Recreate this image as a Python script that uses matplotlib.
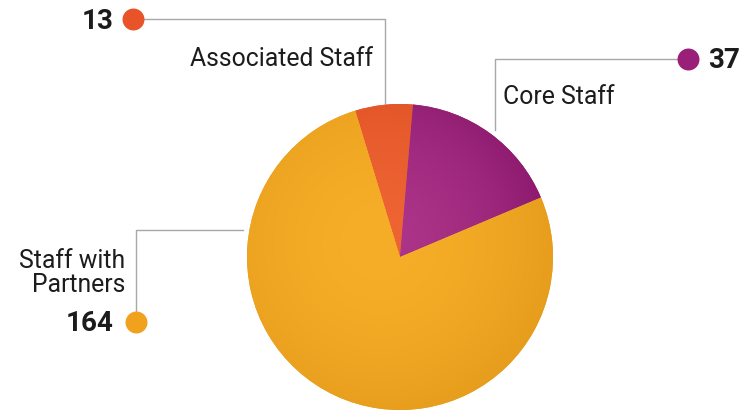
import numpy as np
import matplotlib
matplotlib.use("Agg")
import matplotlib.pyplot as plt
from matplotlib.colors import to_rgb

labels = ["Associated Staff", "Core Staff", "Staff with\nPartners"]
values = [13, 37, 164]
base_colors = ["#E8532A", "#9A1F78", "#F0A11E"]
light_colors = ["#EE6432", "#AC3489", "#F6AE28"]
dark_colors = ["#DD4E24", "#88166A", "#E69C1C"]

W, H = 745, 414
fig = plt.figure(figsize=(W / 100, H / 100), dpi=100)
ax = fig.add_axes([0, 0, 1, 1])
ax.set_xlim(0, W)
ax.set_ylim(0, H)
ax.set_aspect("equal")
ax.axis("off")

cx, cy, R = 400, H - 258, 153
wedges, _ = ax.pie(values, colors=base_colors, startangle=107, counterclock=False,
                   center=(cx, cy), radius=R, frame=True,
                   wedgeprops=dict(linewidth=0))
ax.set_xlim(0, W)
ax.set_ylim(0, H)
ax.axis("off")

# radial shading
xs = np.linspace(cx - R, cx + R, 400)
ys = np.linspace(cy - R, cy + R, 400)
X, Y = np.meshgrid(xs, ys)
hx, hy = cx - 20, cy + 15
d = np.sqrt((X - hx) ** 2 + (Y - hy) ** 2) / (R * 1.2)
t = np.clip(d, 0, 1) ** 1.8
for w, lc, dc in zip(wedges, light_colors, dark_colors):
    l = np.array(to_rgb(lc)); dk = np.array(to_rgb(dc))
    img = l[None, None, :] * (1 - t[..., None]) + dk[None, None, :] * t[..., None]
    im = ax.imshow(img, extent=(cx - R, cx + R, cy - R, cy + R), origin="lower",
                   interpolation="bilinear", zorder=2)
    im.set_clip_path(w)

line_kw = dict(color="#A8A8A8", lw=1.0, zorder=1)
txt = "#1c1c1c"
lab_fs = 17.8
def py(y):
    return H - y

# Associated Staff leader
ax.plot([133, 385, 385], [py(20), py(20), py(106)], **line_kw)
ax.scatter([133], [py(20)], s=250, color=base_colors[0], zorder=3, linewidths=0)
ax.text(114, py(21), str(values[0]), ha="right", va="center", fontsize=20,
        fontweight="bold", color=txt, family="Roboto")
ax.text(373, py(59), labels[0], ha="right", va="center", fontsize=lab_fs,
        color=txt, family="Roboto")

# Core Staff leader
ax.plot([688, 495, 495], [py(60), py(60), py(131)], **line_kw)
ax.scatter([688], [py(60)], s=250, color=base_colors[1], zorder=3, linewidths=0)
ax.text(708, py(61), str(values[1]), ha="left", va="center", fontsize=20,
        fontweight="bold", color=txt, family="Roboto")
ax.text(503, py(97), labels[1], ha="left", va="center", fontsize=lab_fs,
        color=txt, family="Roboto")

# Staff with Partners leader
ax.plot([243, 136, 136], [py(231), py(231), py(323)], **line_kw)
ax.scatter([136], [py(323)], s=250, color=base_colors[2], zorder=3, linewidths=0)
ax.text(114, py(324), str(values[2]), ha="right", va="center", fontsize=20,
        fontweight="bold", color=txt, family="Roboto")
ax.text(125, py(273), labels[2], ha="right", va="center", fontsize=lab_fs,
        color=txt, family="Roboto", linespacing=1.05, multialignment="right")

fig.savefig("out.png", dpi=100, facecolor="white")
